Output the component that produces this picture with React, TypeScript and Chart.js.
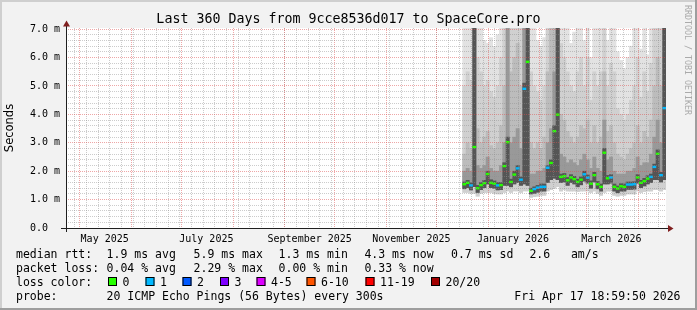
import { useEffect, useRef } from 'react';
import { Chart, registerables } from 'chart.js';

Chart.register(...registerables);

// ---------- texts ----------
const titleText = 'Last 360 Days from 9cce8536d017 to SpaceCore.pro';
const yAxisTitle = 'Seconds';
const creditText = 'RRDTOOL / TOBI OETIKER';

// ---------- time axis (days since window start) ----------
const windowStartUtc = Date.UTC(2025, 3, 22, 18, 59, 50);
const windowLengthDays = 360;
const monthLineDates = [
  '2025-05-01', '2025-06-01', '2025-07-01', '2025-08-01', '2025-09-01', '2025-10-01',
  '2025-11-01', '2025-12-01', '2026-01-01', '2026-02-01', '2026-03-01', '2026-04-01',
];
const firstWeekLineDate = '2025-04-28';
const xLabelTexts = ['May 2025', 'July 2025', 'September 2025', 'November 2025', 'January 2026', 'March 2026'];
const xLabelDates = ['2025-05-16', '2025-07-16', '2025-09-16', '2025-11-16', '2026-01-16', '2026-03-16'];

// ---------- value axis (ms) ----------
const yMaxMs = 7.04;
const yMinorStepMs = 0.2;
const yMajorEvery = 5; // every 5th minor step is a major line (1.0 ms)
const yMajorCount = 7;

// ---------- samples (2-day consolidated steps) ----------
const firstSampleDay = 238;
const sampleSpanDays = 2;

const medianMs = [
  1.54, 1.59, 1.50, 2.85, 1.40, 1.51, 1.58, 1.90, 1.59, 1.56,
  1.50, 1.51, 2.18, 3.02, 1.62, 1.88, 2.10, 1.70, 4.90, 5.85,
  1.31, 1.37, 1.42, 1.45, 1.45, 2.12, 2.29, 3.41, 3.99, 1.80,
  1.82, 1.68, 1.78, 1.72, 1.62, 1.70, 1.89, 1.77, 1.56, 1.86,
  1.54, 1.45, 2.65, 1.75, 1.78, 1.45, 1.39, 1.47, 1.45, 1.53,
  1.53, 1.54, 1.78, 1.59, 1.65, 1.74, 1.80, 2.15, 2.61, 1.86,
  4.22,
];
const lossCount = [
  0, 0, 1, 0, 0, 0, 0, 0, 0, 0,
  1, 0, 0, 0, 0, 0, 1, 1, 1, 0,
  0, 1, 1, 1, 1, 1, 0, 0, 0, 0,
  0, 0, 0, 0, 0, 0, 1, 1, 0, 0,
  0, 0, 0, 0, 1, 0, 0, 0, 0, 1,
  1, 1, 0, 0, 0, 0, 1, 1, 0, 1,
  1,
];
const minMs = [
  1.25, 1.25, 1.22, 1.22, 1.12, 1.22, 1.25, 1.25, 1.25, 1.22,
  1.20, 1.20, 1.25, 1.30, 1.25, 1.30, 1.30, 1.25, 1.30, 1.30,
  1.08, 1.10, 1.12, 1.15, 1.15, 1.30, 1.35, 1.40, 1.45, 1.30,
  1.35, 1.30, 1.30, 1.30, 1.28, 1.30, 1.30, 1.30, 1.25, 1.30,
  1.22, 1.15, 1.25, 1.30, 1.30, 1.15, 1.12, 1.15, 1.15, 1.20,
  1.20, 1.20, 1.30, 1.25, 1.28, 1.30, 1.30, 1.35, 1.35, 1.30,
  1.35,
];
const lowMs = [
  1.38, 1.42, 1.34, 1.45, 1.25, 1.35, 1.42, 1.55, 1.42, 1.40,
  1.34, 1.35, 1.50, 1.50, 1.45, 1.55, 1.60, 1.50, 1.55, 1.50,
  1.20, 1.22, 1.26, 1.30, 1.30, 1.60, 1.70, 1.75, 1.70, 1.60,
  1.62, 1.50, 1.60, 1.55, 1.45, 1.52, 1.65, 1.58, 1.40, 1.62,
  1.38, 1.30, 1.55, 1.55, 1.58, 1.30, 1.24, 1.30, 1.30, 1.36,
  1.36, 1.37, 1.58, 1.42, 1.48, 1.55, 1.60, 1.70, 1.70, 1.62,
  1.70,
];
const coreMs = [
  1.62, 1.68, 1.60, 7.50, 1.50, 1.60, 1.68, 2.00, 1.70, 1.66,
  1.60, 1.60, 2.30, 3.20, 1.72, 2.00, 2.20, 1.80, 5.10, 7.50,
  1.40, 1.45, 1.50, 1.55, 1.55, 2.20, 2.40, 3.60, 7.50, 1.90,
  1.92, 1.78, 1.88, 1.82, 1.72, 1.80, 2.00, 1.87, 1.66, 1.96,
  1.64, 1.55, 2.80, 1.85, 1.88, 1.55, 1.48, 1.56, 1.55, 1.62,
  1.62, 1.63, 1.88, 1.68, 1.75, 1.84, 1.90, 2.25, 2.75, 1.96,
  7.50,
];
const high1Ms = [
  2.00, 2.10, 2.00, 7.50, 2.20, 2.10, 2.20, 2.50, 2.10, 2.00,
  2.00, 2.20, 3.00, 7.50, 3.00, 3.20, 3.50, 2.80, 7.50, 7.50,
  1.90, 1.90, 2.00, 2.00, 2.10, 3.00, 3.50, 5.50, 7.50, 2.60,
  2.50, 2.30, 2.40, 2.30, 2.20, 2.40, 2.60, 2.40, 2.10, 2.50,
  2.10, 2.00, 3.80, 2.40, 2.50, 2.00, 1.90, 1.90, 1.90, 2.00,
  2.00, 2.10, 2.50, 2.20, 2.30, 2.30, 2.60, 3.20, 3.80, 3.00,
  7.50,
];
const high2Ms = [
  2.60, 3.00, 2.80, 7.50, 3.50, 3.00, 3.20, 3.40, 2.90, 2.80,
  3.00, 3.60, 5.00, 7.50, 5.50, 6.00, 6.50, 5.00, 7.50, 7.50,
  3.00, 2.80, 3.00, 2.80, 3.20, 5.50, 7.50, 7.50, 7.50, 4.00,
  3.80, 3.40, 3.20, 3.00, 3.20, 3.60, 3.50, 3.80, 3.00, 3.60,
  3.00, 3.20, 5.50, 3.40, 3.60, 3.00, 2.60, 2.50, 2.40, 2.60,
  2.80, 3.00, 3.60, 3.00, 3.40, 3.20, 3.80, 5.00, 6.00, 5.00,
  7.50,
];
const high3Ms = [
  5.00, 5.50, 5.20, 7.50, 6.00, 5.50, 5.00, 5.20, 4.80, 4.60,
  5.00, 6.00, 7.50, 7.50, 7.50, 7.50, 7.50, 7.50, 7.50, 7.50,
  5.50, 5.00, 4.80, 4.50, 5.00, 7.50, 7.50, 7.50, 7.50, 6.50,
  6.00, 5.50, 5.00, 4.80, 5.50, 6.00, 5.00, 6.00, 4.50, 5.50,
  5.00, 5.50, 7.50, 5.00, 5.80, 5.50, 4.20, 4.00, 3.80, 4.00,
  4.50, 5.00, 6.00, 4.60, 5.50, 4.80, 5.80, 7.50, 7.50, 7.50,
  7.50,
];
const maxMs = [
  7.50, 7.50, 7.50, 7.50, 7.50, 7.50, 6.60, 6.50, 6.70, 6.40,
  6.80, 7.50, 7.50, 7.50, 7.50, 7.50, 7.50, 7.50, 7.50, 7.50,
  7.50, 7.50, 6.60, 6.40, 6.70, 7.50, 7.50, 7.50, 7.50, 7.50,
  7.50, 7.50, 6.50, 6.90, 7.50, 7.50, 6.60, 7.50, 6.00, 7.50,
  7.50, 7.50, 7.50, 6.60, 7.50, 7.50, 6.20, 5.90, 5.60, 6.00,
  6.40, 7.50, 7.50, 6.30, 7.50, 6.10, 7.50, 7.50, 7.50, 7.50,
  7.50,
];

// ---------- legend ----------
const rttStats = ['1.9 ms avg', '5.9 ms max', '1.3 ms min', '4.3 ms now', '0.7 ms sd', '2.6   am/s'];
const lossStats = ['0.04 % avg', '2.29 % max', '0.00 % min', '0.33 % now'];
const lossLabels = ['0', '1', '2', '3', '4-5', '6-10', '11-19', '20/20'];
const lossColors = ['#26ff00', '#00b8ff', '#0059ff', '#7e00ff', '#dd00ff', '#ff5500', '#ff0000', '#a10000'];
const probeText = '20 ICMP Echo Pings (56 Bytes) every 300s';
const stampText = 'Fri Apr 17 18:59:50 2026';

// ---------- styles ----------
const MONO = '"DejaVu Sans Mono", monospace';
const statX = [106.6, 193.6, 278.6, 364.4, 451.0, 529.4];
const swatchX = [108, 145.5, 182.5, 220, 256.5, 306.5, 365.5, 431];
const minorGrid = 'rgba(143,143,143,0.45)';
const majorGrid = 'rgba(222,79,79,0.5)';

const DAY_MS = 86400000;
const dayOf = (iso: string) => (Date.parse(iso + 'T00:00:00Z') - windowStartUtc) / DAY_MS;

function buildXTicks() {
  const ticks: any[] = [];
  for (let d = dayOf(firstWeekLineDate); d < windowLengthDays; d += 7) ticks.push({ value: d, kind: 'week', rank: 0 });
  monthLineDates.forEach((m) => ticks.push({ value: dayOf(m), kind: 'month', rank: 1 }));
  xLabelDates.forEach((m, i) => ticks.push({ value: dayOf(m), kind: 'label', rank: 2, name: xLabelTexts[i] }));
  return ticks.sort((a, b) => a.value - b.value || a.rank - b.rank);
}

function buildYTicks() {
  const ticks: any[] = [];
  for (let k = 0; k <= yMajorCount * yMajorEvery; k++) {
    ticks.push({ value: +(k * yMinorStepMs).toFixed(2), kind: k % yMajorEvery === 0 ? 'major' : 'minor' });
  }
  return ticks;
}

const centers = medianMs.map((_, i) => firstSampleDay + sampleSpanDays * (i + 0.5));
const band = (lo: number[], hi: number[]) => lo.map((l, i) => ({ x: centers[i], y: [l, hi[i]] }));

const barBase = {
  grouped: false,
  barThickness: 3.34,
  borderWidth: 0,
  inflateAmount: 0.3,
};

const rrdPlugin = {
  id: 'rrdDecor',
  beforeDraw(chart: any) {
    const { ctx, width, height, chartArea: a } = chart;
    ctx.save();
    ctx.fillStyle = '#f2f2f2';
    ctx.fillRect(0, 0, width, height);
    ctx.fillStyle = '#cfcfcf';
    ctx.fillRect(0, 0, width, 2);
    ctx.fillRect(0, 0, 2, height);
    ctx.fillStyle = '#9e9e9e';
    ctx.fillRect(0, height - 2, width, 2);
    ctx.fillRect(width - 2, 0, 2, height);
    ctx.fillStyle = '#ffffff';
    ctx.fillRect(a.left, a.top, a.right - a.left, a.bottom - a.top);
    ctx.restore();
  },
  afterDraw(chart: any) {
    const { ctx, chartArea: a } = chart;
    ctx.save();
    // axes
    ctx.strokeStyle = '#1f1f1f';
    ctx.lineWidth = 1;
    ctx.beginPath();
    ctx.moveTo(a.left - 5, a.bottom + 0.5);
    ctx.lineTo(a.right + 3, a.bottom + 0.5);
    ctx.moveTo(a.left + 0.5, a.bottom + 4);
    ctx.lineTo(a.left + 0.5, a.top - 3);
    ctx.stroke();
    // arrows
    ctx.fillStyle = '#801f1f';
    ctx.beginPath();
    ctx.moveTo(a.left - 3, a.top - 1.5);
    ctx.lineTo(a.left + 0.5, a.top - 7.5);
    ctx.lineTo(a.left + 4, a.top - 1.5);
    ctx.closePath();
    ctx.fill();
    ctx.beginPath();
    ctx.moveTo(a.right + 2, a.bottom - 3);
    ctx.lineTo(a.right + 7.5, a.bottom + 0.5);
    ctx.lineTo(a.right + 2, a.bottom + 4);
    ctx.closePath();
    ctx.fill();

    // title
    ctx.fillStyle = '#000';
    ctx.font = `13.3px ${MONO}`;
    ctx.textAlign = 'center';
    ctx.textBaseline = 'alphabetic';
    ctx.fillText(titleText, 348.5, 23);

    // vertical y title
    ctx.save();
    ctx.translate(10.5, (a.top + a.bottom) / 2);
    ctx.rotate(-Math.PI / 2);
    ctx.font = '11.5px "DejaVu Sans", sans-serif';
    ctx.textAlign = 'center';
    ctx.textBaseline = 'middle';
    ctx.fillText(yAxisTitle, 0, 0);
    ctx.restore();

    // credit
    ctx.save();
    ctx.translate(687, 5);
    ctx.rotate(Math.PI / 2);
    ctx.font = `8.3px ${MONO}`;
    ctx.fillStyle = '#aaaaaa';
    ctx.textAlign = 'left';
    ctx.textBaseline = 'middle';
    ctx.fillText(creditText, 0, 0);
    ctx.restore();

    // legend
    ctx.font = `11.5px ${MONO}`;
    ctx.textAlign = 'left';
    ctx.textBaseline = 'alphabetic';
    ctx.fillStyle = '#000';
    const rows = [258, 272, 286, 300];
    ctx.fillText('median rtt:', 16, rows[0]);
    rttStats.forEach((s, i) => ctx.fillText(s, statX[i], rows[0]));
    ctx.fillText('packet loss:', 16, rows[1]);
    lossStats.forEach((s, i) => ctx.fillText(s, statX[i], rows[1]));
    ctx.fillText('loss color:', 16, rows[2]);
    lossLabels.forEach((s, i) => {
      const x = swatchX[i];
      ctx.fillStyle = lossColors[i];
      ctx.fillRect(x, rows[2] - 9, 9, 9);
      ctx.strokeStyle = '#000';
      ctx.strokeRect(x + 0.5, rows[2] - 8.5, 8, 8);
      ctx.fillStyle = '#000';
      ctx.fillText(s, x + 14.5, rows[2]);
    });
    ctx.fillText('probe:', 16, rows[3]);
    ctx.fillText(probeText, statX[0], rows[3]);
    ctx.textAlign = 'right';
    ctx.fillText(stampText, 680.5, rows[3]);
    ctx.restore();
  },
};

export default function App() {
  const ref = useRef<HTMLCanvasElement>(null);
  useEffect(() => {
    document.body.style.margin = '0';
    const canvas = ref.current!;
    const chart = new Chart(canvas, {
      type: 'bar',
      data: {
        datasets: [
          {
            ...barBase,
            label: 'median',
            data: medianMs.map((m, i) => ({ x: centers[i], y: [m - 0.035, m + 0.035] })),
            backgroundColor: lossCount.map((c) => lossColors[c]),
            inflateAmount: 0.2,
          },
          { ...barBase, label: 'core', data: band(lowMs, coreMs), backgroundColor: '#555555' },
          { ...barBase, label: 'inner', data: band(lowMs, high1Ms), backgroundColor: '#999999' },
          { ...barBase, label: 'mid', data: band(lowMs, high2Ms), backgroundColor: '#bcbcbc' },
          { ...barBase, label: 'outer', data: band(minMs, high3Ms), backgroundColor: '#d0d0d0' },
          { ...barBase, label: 'range', data: band(minMs, maxMs), backgroundColor: '#e2e2e2' },
        ] as any,
      },
      options: {
        responsive: false,
        animation: false,
        events: [],
        layout: { padding: { top: 28, right: 31, bottom: 0, left: 0 } },
        plugins: { legend: { display: false }, tooltip: { enabled: false }, title: { display: false } },
        scales: {
          x: {
            type: 'linear',
            min: 0,
            max: windowLengthDays,
            offset: false,
            afterBuildTicks: (scale: any) => {
              scale.ticks = buildXTicks();
            },
            afterFit: (scale: any) => {
              scale.height = 82;
            },
            grid: {
              z: 1,
              offset: false,
              drawTicks: false,
              lineWidth: 1,
              color: (c: any) => (c.tick?.kind === 'month' ? majorGrid : c.tick?.kind === 'week' ? minorGrid : 'rgba(0,0,0,0)'),
            },
            border: { display: false, dash: [1, 1] },
            ticks: {
              autoSkip: false,
              maxRotation: 0,
              minRotation: 0,
              padding: 5,
              color: '#000',
              font: { family: MONO, size: 10 },
              callback: (_v: any, i: number, ticks: any[]) => ticks[i]?.name ?? '',
            },
          },
          y: {
            type: 'linear',
            min: 0,
            max: yMaxMs,
            afterBuildTicks: (scale: any) => {
              scale.ticks = buildYTicks();
            },
            afterFit: (scale: any) => {
              scale.width = 66;
            },
            grid: {
              z: 1,
              drawTicks: false,
              lineWidth: 1,
              color: (c: any) => (c.tick?.kind === 'major' ? majorGrid : minorGrid),
            },
            border: { display: false, dash: [1, 1] },
            ticks: {
              autoSkip: false,
              padding: 6,
              color: '#000',
              font: { family: MONO, size: 10 },
              callback: (v: any, i: number, ticks: any[]) =>
                ticks[i]?.kind === 'major' ? (v === 0 ? '0.0  ' : Number(v).toFixed(1) + ' m') : '',
            },
          },
        },
      },
      plugins: [rrdPlugin],
    } as any);
    return () => chart.destroy();
  }, []);
  return (
    <div style={{ width: 697, height: 310 }}>
      <canvas ref={ref} width={697} height={310} style={{ display: 'block', width: 697, height: 310 }} />
    </div>
  );
}
